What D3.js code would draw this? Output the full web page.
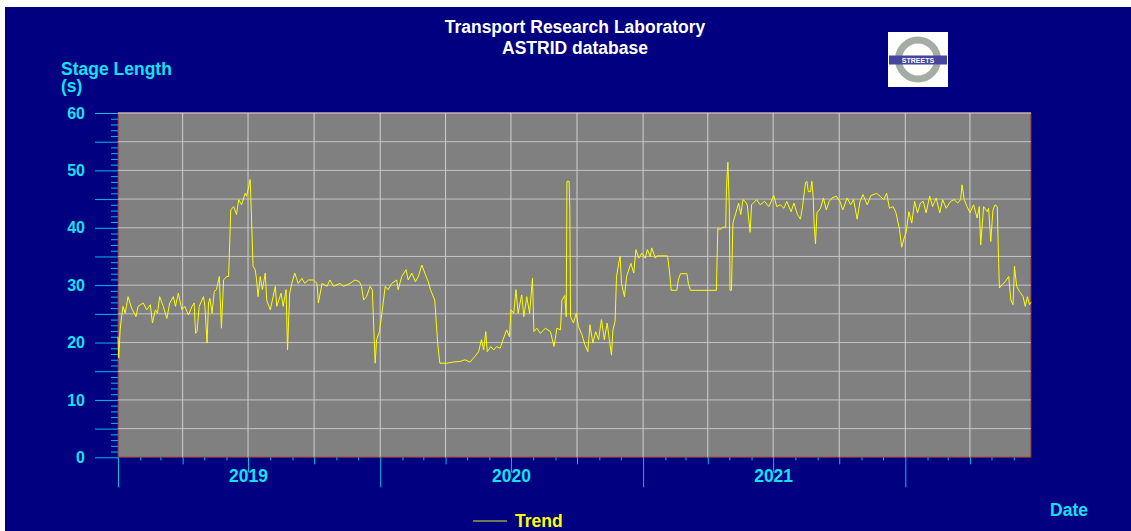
<!DOCTYPE html>
<html>
<head>
	<title>ASTRID Stage Length</title>
	<script src="https://d3js.org/d3.v7.min.js"></script>
	<style type="text/css">
		*
		{
			margin:0;
			padding:0;
		}
		body
		{
			background:#ffffff;
			font-family: "Liberation Sans", Arial, sans-serif;
		}
		svg text
		{
			font-weight: bold;
		}
	</style>
</head>
<body>
	<div id="chart"></div>
	<script>
		// values (date, stage length in seconds)
		const dates = [
			"2019-01-01","2019-01-02","2019-01-04","2019-01-06","2019-01-08","2019-01-11","2019-01-15","2019-01-20","2019-01-26","2019-01-29",
			"2019-02-05","2019-02-10","2019-02-15","2019-02-18","2019-02-22","2019-02-25","2019-02-28","2019-03-05","2019-03-10","2019-03-14",
			"2019-03-19","2019-03-22","2019-03-26","2019-03-31","2019-04-04","2019-04-09","2019-04-14","2019-04-17","2019-04-19","2019-04-21",
			"2019-04-24","2019-04-30","2019-05-02","2019-05-05","2019-05-07","2019-05-09","2019-05-12","2019-05-15","2019-05-18","2019-05-22",
			"2019-05-25","2019-05-28","2019-06-01","2019-06-04","2019-06-07","2019-06-11","2019-06-15","2019-06-18","2019-06-22","2019-06-27",
			"2019-06-29","2019-07-01","2019-07-04","2019-07-05","2019-07-08","2019-07-11","2019-07-13","2019-07-15","2019-07-18","2019-07-21",
			"2019-07-25","2019-07-27","2019-08-01","2019-08-08","2019-08-10","2019-08-16","2019-08-19","2019-08-23","2019-08-25","2019-08-28",
			"2019-08-31","2019-09-04","2019-09-09","2019-09-14","2019-09-18","2019-09-23","2019-09-30","2019-10-05","2019-10-07","2019-10-12",
			"2019-10-19","2019-10-23","2019-10-28","2019-11-06","2019-11-11","2019-11-20","2019-11-27","2019-12-03","2019-12-06","2019-12-09",
			"2019-12-13","2019-12-18","2019-12-21","2019-12-25","2019-12-27","2019-12-31",
			"2020-01-04","2020-01-08","2020-01-12","2020-01-17","2020-01-24","2020-01-26","2020-01-31","2020-02-06","2020-02-09","2020-02-14",
			"2020-02-19","2020-02-23","2020-02-28","2020-03-04","2020-03-08","2020-03-11","2020-03-17","2020-03-21","2020-03-24","2020-04-03",
			"2020-04-12","2020-04-21","2020-04-28","2020-05-05","2020-05-12","2020-05-17","2020-05-21","2020-05-24","2020-05-27","2020-05-29",
			"2020-06-03","2020-06-07","2020-06-11","2020-06-16","2020-06-20","2020-06-25","2020-06-29","2020-07-01","2020-07-05","2020-07-08",
			"2020-07-11","2020-07-16","2020-07-19","2020-07-23","2020-07-27","2020-07-31","2020-08-02","2020-08-06","2020-08-11","2020-08-18",
			"2020-08-25","2020-08-30","2020-09-03","2020-09-08","2020-09-10","2020-09-14","2020-09-16","2020-09-17","2020-09-20","2020-09-21",
			"2020-09-22","2020-09-26","2020-09-30","2020-10-03","2020-10-08","2020-10-12","2020-10-16","2020-10-19","2020-10-23","2020-10-27",
			"2020-10-31","2020-11-04","2020-11-08","2020-11-12","2020-11-15","2020-11-18","2020-11-20","2020-11-23","2020-11-25","2020-11-28",
			"2020-11-30","2020-12-02","2020-12-06","2020-12-09","2020-12-15","2020-12-19","2020-12-22","2020-12-26","2020-12-30",
			"2021-01-04","2021-01-07","2021-01-11","2021-01-13","2021-01-18","2021-01-20","2021-02-04","2021-02-07","2021-02-09","2021-02-17",
			"2021-02-19","2021-02-22","2021-03-03","2021-03-05","2021-03-08","2021-04-13","2021-04-15","2021-04-18","2021-04-22","2021-04-26",
			"2021-04-27","2021-04-29","2021-05-01","2021-05-02","2021-05-04","2021-05-06","2021-05-08","2021-05-12","2021-05-14","2021-05-17",
			"2021-05-20","2021-05-23","2021-05-26","2021-05-30","2021-06-01","2021-06-08","2021-06-13","2021-06-19","2021-06-25","2021-07-02",
			"2021-07-06","2021-07-11","2021-07-16","2021-07-20","2021-07-26","2021-07-30","2021-08-04","2021-08-08","2021-08-11","2021-08-15",
			"2021-08-17","2021-08-19","2021-08-22","2021-08-24","2021-08-26","2021-08-27","2021-08-29","2021-08-31","2021-09-05","2021-09-09",
			"2021-09-13","2021-09-17","2021-09-21","2021-09-27","2021-10-02","2021-10-06","2021-10-12","2021-10-17","2021-10-21","2021-10-26",
			"2021-10-30","2021-11-03","2021-11-09","2021-11-14","2021-11-22","2021-11-27","2021-12-02","2021-12-06","2021-12-10","2021-12-15",
			"2021-12-19","2021-12-24","2021-12-27","2021-12-31",
			"2022-01-02","2022-01-06","2022-01-10","2022-01-14","2022-01-18","2022-01-22","2022-01-26","2022-01-30","2022-02-04","2022-02-08",
			"2022-02-13","2022-02-18","2022-02-22","2022-02-27","2022-03-05","2022-03-10","2022-03-15","2022-03-19","2022-03-21","2022-03-24",
			"2022-03-28","2022-04-01","2022-04-06","2022-04-11","2022-04-14","2022-04-16","2022-04-20","2022-04-25","2022-04-27","2022-04-30",
			"2022-05-03","2022-05-06","2022-05-09","2022-05-11","2022-05-12","2022-05-16","2022-05-20","2022-05-25","2022-05-28","2022-05-31",
			"2022-06-02","2022-06-05","2022-06-09","2022-06-14","2022-06-17","2022-06-20","2022-06-23","2022-06-25"
		];
		const stageLength = [
			21.0,17.3,22.2,24.5,26.3,25.1,28.0,26.0,24.5,26.3,
			26.9,25.7,26.6,23.4,25.7,25.1,28.0,26.3,24.2,26.9,
			28.0,26.3,28.6,25.7,26.3,24.8,26.3,26.9,21.6,21.9,
			26.3,28.0,26.3,19.9,26.9,27.7,25.1,28.9,29.2,31.5,
			22.5,30.9,31.5,31.5,43.1,43.7,42.3,44.9,44.0,46.0,
			45.5,46.6,48.4,44.9,33.3,32.7,30.9,28.0,31.5,29.2,
			32.1,27.4,25.7,29.8,26.3,28.6,26.3,29.2,18.7,28.6,
			30.3,32.1,30.3,31.2,30.3,30.9,30.9,30.3,26.9,30.3,
			29.8,30.9,29.8,30.3,29.8,30.3,30.9,30.6,29.8,27.4,
			28.0,29.8,29.2,16.4,20.5,21.9,
			25.7,29.8,29.2,30.3,30.9,29.2,31.5,32.7,30.9,32.1,
			30.6,31.5,33.5,31.8,30.6,29.2,27.4,19.9,16.4,16.4,
			16.6,16.7,17.0,16.6,17.6,18.4,20.5,18.7,21.9,18.4,
			19.3,18.7,19.3,19.0,20.5,22.2,21.0,25.7,25.1,29.2,
			25.1,28.3,24.5,28.0,25.1,31.2,21.9,22.5,21.6,22.5,
			21.9,19.3,22.5,22.2,27.4,28.2,24.5,48.1,48.1,43.1,
			24.5,23.4,25.1,22.8,21.3,19.6,18.4,23.1,19.9,21.9,
			20.5,24.0,20.5,23.4,20.5,17.8,22.2,23.7,31.5,33.8,
			35.0,30.3,28.0,31.5,33.8,32.1,36.2,34.7,35.6,
			34.7,36.2,35.0,36.5,34.7,35.1,35.1,32.1,29.1,29.1,
			30.9,32.0,32.0,30.3,29.1,29.1,39.9,39.7,40.1,40.1,
			46.6,51.4,43.7,29.1,29.1,40.8,41.7,43.4,44.3,42.3,
			44.9,44.6,44.0,39.2,44.0,44.9,44.0,44.6,43.7,45.6,
			43.7,44.0,43.4,44.6,42.8,44.3,42.3,41.5,43.7,47.8,
			48.1,46.3,46.3,48.1,44.9,40.8,37.2,42.6,43.4,45.2,
			43.1,44.6,45.2,45.5,44.6,43.1,45.2,44.0,44.9,41.5,
			44.6,45.8,44.0,45.6,46.0,45.5,44.9,46.0,43.4,43.7,
			42.6,39.7,36.6,38.5,
			39.1,42.8,40.8,44.6,42.6,44.3,44.6,42.6,45.5,43.7,
			45.2,42.6,44.9,43.4,44.6,44.9,44.3,44.9,47.5,44.9,
			43.7,42.6,44.0,41.7,43.7,37.0,43.7,42.8,43.4,37.6,
			43.1,44.0,43.7,33.8,29.5,30.1,30.6,31.5,27.4,26.6,
			33.3,29.8,28.9,28.0,26.3,28.0,26.6,27.0
		];
		const yTicks = [0, 10, 20, 30, 40, 50, 60];
		const yearLabels = ["2019", "2020", "2021"];
		const titleLines = ["Transport Research Laboratory", "ASTRID database"];
		const yTitleLines = ["Stage Length", "(s)"];

		const width = 1131;
		const height = 531;
		const plot = {left: 118, right: 1031, top: 113, bottom: 457.3};
		const cyan = "#12e2f4";
		const tickColour = "#00bde6";
		const bigFont = "17.5px";

		const parseDate = d3.timeParse("%Y-%m-%d");
		const data = dates.map((d, i) => ({date: parseDate(d), value: stageLength[i]}));

		const xStart = parseDate("2019-01-01");
		const xEnd = parseDate("2022-06-25");
		const xScale = d3.scaleTime().domain([xStart, xEnd]).range([plot.left, plot.right]);
		const yScale = d3.scaleLinear().domain([0, 60]).range([plot.bottom, plot.top]);

		const svg = d3.select("#chart").append("svg")
			.attr("width", width)
			.attr("height", height);

		svg.append("rect")
			.attr("x", 5).attr("y", 7)
			.attr("width", width - 5).attr("height", height - 7)
			.attr("fill", "#000080");

		// titles
		svg.append("text")
			.attr("text-anchor", "middle")
			.attr("fill", "#ffffff")
			.style("font-size", bigFont)
			.selectAll("tspan")
			.data(titleLines)
			.enter()
			.append("tspan")
			.attr("x", 575)
			.attr("y", (d, i) => 33 + i * 20.5)
			.text(d => d);

		svg.append("text")
			.attr("fill", cyan)
			.style("font-size", bigFont)
			.selectAll("tspan")
			.data(yTitleLines)
			.enter()
			.append("tspan")
			.attr("x", 61)
			.attr("y", (d, i) => 75 + i * 17)
			.text(d => d);

		// logo
		const logo = svg.append("g").attr("id", "logo");
		logo.append("rect").attr("x", 888).attr("y", 32).attr("width", 60).attr("height", 55).attr("fill", "#ffffff");
		logo.append("circle").attr("cx", 918).attr("cy", 59.5).attr("r", 19.5)
			.attr("fill", "none").attr("stroke", "#a4aca4").attr("stroke-width", 7);
		logo.append("rect").attr("x", 889).attr("y", 55.5).attr("width", 58).attr("height", 9).attr("fill", "#4646a0");
		logo.append("text").attr("x", 918).attr("y", 62.6).attr("text-anchor", "middle")
			.attr("fill", "#ffffff").style("font-size", "7px").text("STREETS");

		// plot background
		svg.append("rect")
			.attr("x", plot.left).attr("y", plot.top)
			.attr("width", plot.right - plot.left).attr("height", plot.bottom - plot.top)
			.attr("fill", "#808080")
			.attr("stroke", "#8c2a2a");

		// grid
		const quarters = d3.timeMonth.every(3).range(xStart, xEnd).filter(d => +d > +xStart);
		svg.append("g").selectAll("line")
			.data(quarters)
			.enter()
			.append("line")
			.attr("x1", d => xScale(d)).attr("x2", d => xScale(d))
			.attr("y1", plot.top).attr("y2", plot.bottom)
			.attr("stroke", "#cfcfcf");

		svg.append("g").selectAll("line")
			.data(d3.range(5, 60, 5))
			.enter()
			.append("line")
			.attr("x1", plot.left).attr("x2", plot.right)
			.attr("y1", d => yScale(d)).attr("y2", d => yScale(d))
			.attr("stroke", "#c4c4c4");

		svg.append("line")
			.attr("x1", plot.left).attr("x2", plot.right)
			.attr("y1", plot.top).attr("y2", plot.top)
			.attr("stroke", "#f0f0f0");

		// y axis
		const yMinor = d3.axisLeft(yScale).tickValues(d3.range(0, 61).filter(d => d % 5 !== 0)).tickSize(7).tickFormat("");
		const yMajor = d3.axisLeft(yScale).tickValues(d3.range(0, 61, 5)).tickSize(23).tickPadding(10)
			.tickFormat(d => yTicks.includes(d) ? d : "");

		function styleAxis(g, size)
		{
			g.select(".domain").remove();
			g.selectAll("line").attr("stroke", tickColour);
			g.selectAll("text").attr("fill", cyan).style("font-size", size || "16px")
				.style("font-family", "'Liberation Sans', Arial, sans-serif");
		}

		svg.append("g").attr("transform", "translate(" + plot.left + ",0)").call(yMinor).call(styleAxis);
		svg.append("g").attr("transform", "translate(" + plot.left + ",0)").call(yMajor).call(styleAxis);

		// x axis: months, quarters, half years, years
		const months = d3.timeMonth.range(xStart, xEnd);
		const isQuarter = d => d.getMonth() % 3 === 0;
		const xMonth = d3.axisBottom(xScale).tickValues(months.filter(d => !isQuarter(d))).tickSize(3).tickFormat("");
		const xQuarter = d3.axisBottom(xScale).tickValues(months.filter(d => d.getMonth() === 3 || d.getMonth() === 9)).tickSize(7).tickFormat("");
		const xHalf = d3.axisBottom(xScale).tickValues(months.filter(d => d.getMonth() === 6)).tickSize(15).tickPadding(-3)
			.tickFormat((d, i) => yearLabels[i]);
		const xYear = d3.axisBottom(xScale).tickValues(months.filter(d => d.getMonth() === 0)).tickSize(30).tickFormat("");

		[xMonth, xQuarter, xHalf, xYear].forEach(axis => {
			svg.append("g").attr("transform", "translate(0," + plot.bottom + ")").call(axis).call(styleAxis, bigFont);
		});

		// trend line
		const line = d3.line()
			.x(d => xScale(d.date))
			.y(d => yScale(d.value));

		svg.append("path")
			.datum(data)
			.attr("d", line)
			.attr("fill", "none")
			.attr("stroke", "#ffff00")
			.attr("stroke-width", 1);

		svg.append("text").attr("x", 1088).attr("y", 516).attr("text-anchor", "end")
			.attr("fill", cyan).style("font-size", bigFont).text("Date");

		// legend
		const legend = svg.append("g").attr("id", "legend");
		legend.append("line").attr("x1", 473).attr("x2", 507).attr("y1", 521).attr("y2", 521)
			.attr("stroke", "#e8e830").attr("stroke-width", 1);
		legend.append("text").attr("x", 515).attr("y", 527).attr("fill", "#ffff00")
			.style("font-size", bigFont).text("Trend");
	</script>
</body>
</html>
